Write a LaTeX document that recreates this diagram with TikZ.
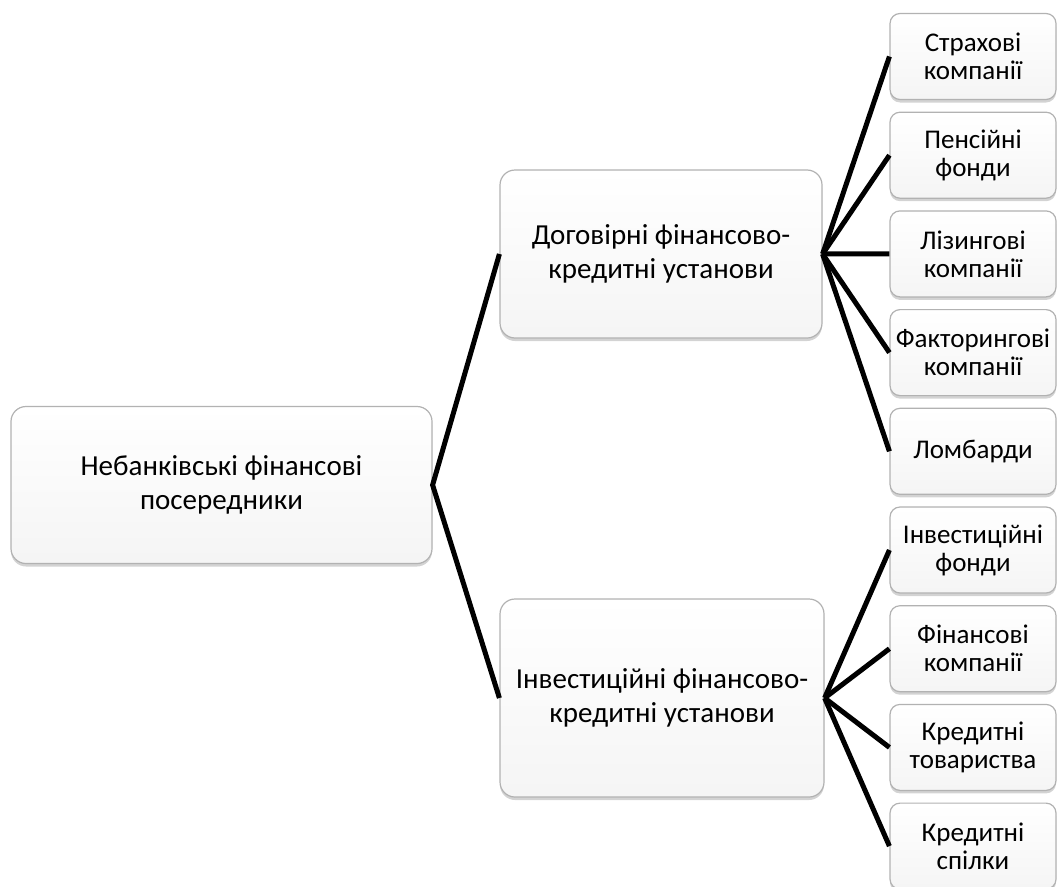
\documentclass[tikz,border=0pt]{standalone}
\usepackage{fontspec}
\setmainfont{Carlito}
\usetikzlibrary{shadows}

\begin{document}
\begin{tikzpicture}[x=1pt,y=-1pt,
        box/.style={draw=gray!60, line width=1.2pt, rounded corners=15pt, top color=white, bottom color=black!4,
            align=center, inner sep=0pt, font=\fontsize{29}{34}\selectfont,
            drop shadow={shadow xshift=0pt, shadow yshift=-3pt, opacity=0.35, fill=gray}},
        leaf/.style={box, rounded corners=10pt, minimum width=166pt, minimum height=86pt, font=\fontsize{27}{28}\selectfont},
        link/.style={line width=5pt}]
        \useasboundingbox (0,0) rectangle (1057,886);
        \clip (0,0) rectangle (1057,886);

        % main boxes
        \node[box, minimum width=421pt, minimum height=157pt] (root) at (221.5,485) {Небанківські фінансові\\посередники};
        \node[box, minimum width=322pt, minimum height=168pt] (dog) at (661,254) {Договірні фінансово-\\кредитні установи};
        \node[box, minimum width=324pt, minimum height=198pt] (inv) at (662,698) {Інвестиційні фінансово-\\кредитні установи};

        % leaves
        \node[leaf] (strakh) at (973,56.5) {Страхові\\компанії};
        \node[leaf] (pens) at (973,155.2) {Пенсійні\\фонди};
        \node[leaf] (lizing) at (973,253.9) {Лізингові\\компанії};
        \node[leaf] (faktor) at (973,352.6) {Факторингові\\компанії};
        \node[leaf] (lomb) at (973,451.3) {Ломбарди};
        \node[leaf] (invf) at (973,550) {Інвестиційні\\фонди};
        \node[leaf] (fink) at (973,648.7) {Фінансові\\компанії};
        \node[leaf] (kredt) at (973,747.4) {Кредитні\\товариства};
        \node[leaf] (kreds) at (973,846.1) {Кредитні\\спілки};

        % connectors
        \draw[link] (dog.west) -- (root.east) -- (inv.west);
        \draw[link] (dog.east) -- (strakh.west);
        \draw[link] (dog.east) -- (pens.west);
        \draw[link] (dog.east) -- (lizing.west);
        \draw[link] (dog.east) -- (faktor.west);
        \draw[link] (dog.east) -- (lomb.west);
        \draw[link] (inv.east) -- (invf.west);
        \draw[link] (inv.east) -- (fink.west);
        \draw[link] (inv.east) -- (kredt.west);
        \draw[link] (inv.east) -- (kreds.west);
    \end{tikzpicture}
\end{document}
